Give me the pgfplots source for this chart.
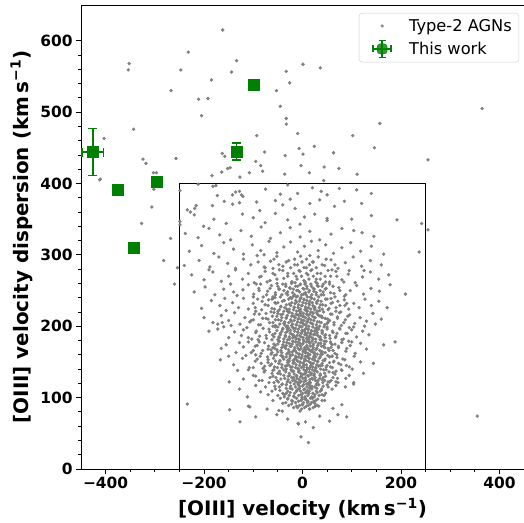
\documentclass[border=0pt]{standalone}
\usepackage{pgfplots}
\pgfplotsset{compat=1.18}
\usepackage{fontspec}
\setmainfont{DejaVu Sans}
\usetikzlibrary{calc}
\definecolor{mplgreen}{RGB}{0,128,0}
\definecolor{ptgray}{RGB}{128,128,128}
\begin{document}
\begin{tikzpicture}
\begin{axis}[name=ax,
  scale only axis, width=443bp, height=464bp,
  xmin=-450, xmax=450, ymin=0, ymax=650,
  xtick={-400,-200,0,200,400},
  xticklabels={−400,−200,0,200,400},
  ytick={0,100,200,300,400,500,600},
  minor x tick num=3, minor y tick num=4,
  tick pos=left, tick align=outside,
  major tick length=4.9bp, minor tick length=2.8bp,
  every tick/.style={black, line width=0.8bp},
  axis line style={black, line width=0.8bp},
  /pgf/number format/assume math mode=true,
  ticklabel style={font=\fontsize{15.5}{18}\selectfont\bfseries},
  label style={font=\fontsize{20}{23}\selectfont\bfseries},
  xlabel={[OIII] velocity (km\,s\textsuperscript{−1})},
  ylabel={[OIII] velocity dispersion (km\,s\textsuperscript{−1})},
  xlabel style={yshift=-2bp},
  ylabel style={yshift=1bp},
  legend style={at={(1,1)}, anchor=north east, xshift=-5bp, yshift=-8bp,
    draw=black!20, rounded corners=3bp, fill=white, fill opacity=0.8, text opacity=1,
    font=\fontsize{16.3}{19}\selectfont, inner xsep=5bp, inner ysep=4bp, row sep=5bp},
  legend cell align=left,
  clip=false,
]
\addplot[only marks, mark=*, mark size=1.5bp, ptgray, mark options={draw=none, fill=ptgray},
  legend image code/.code={\path[draw=none,fill=none] (0bp,-1bp) rectangle (43bp,1bp); \fill[ptgray] (18bp,0bp) circle (1.4bp);}] coordinates {
(-162,615)(-232,584)(-352,568)(-354,559)(-134,572)(-247,559)(-144,556)(-185,545)(-267,530)(1,567)(36,562)(-33,557)(-26,541)(-53,530)(-211,518)(-192,519)(-45,508)(-205,495)(-33,491)(-33,483)(365,505)(157,484)(-343,476)(-403,463)(-93,467)(-10,470)(102,467)(24,452)(-7,449)(1,441)(63,443)(146,450)(-77,444)(-35,439)(-163,442)(-158,438)(-257,435)(-324,434)(-318,428)(255,433)(-95,431)(-85,425)(-81,417)(-3,425)(44,423)(74,421)(14,415)(-36,413)(111,413)(-108,415)(-127,409)(-147,422)(-152,421)(-164,416)(-184,411)(-303,415)(-297,415)(-411,406)(43,404)(-412,405)
(-302,392)(-306,367)(-327,344)(-268,323)(-282,292)(-254,282)(-260,259)(237,304)(209,245)(255,335)(242,344)(192,349)(-234,91)(355,74)(188,178)(165,174)(144,148)(126,200)(148,203)
(-3,45)(12,37)(-8,63)(6,66)(22,58)(-30,70)(55,67)(72,76)(90,73)(-52,76)(-95,73)(35,74)(-41,81)(-9,64)
(-110,88)(-72,84)(-48,82)(-40,92)(-20,95)(-10,86)(0,90)(5,98)(15,84)(25,92)(33,88)(45,96)(62,85)(-30,99)(-60,96)(10,93)(-5,81)(20,99)(-148,83)(80,90)(-107,87)(-127,66)
(-112,101)(-85,108)(-70,104)(-55,112)(-42,118)(-33,106)(-25,113)(-18,102)(-12,109)(-6,116)(-2,104)(3,111)(8,119)(13,106)(18,114)(24,101)(29,118)(36,109)(44,103)(52,115)(68,117)(87,115)(104,119)(-95,117)(-128,112)(-1,100)(6,107)(-9,112)(15,117)(-37,101)(-149,122)(104,121)(124,134)
(-120,126)(-100,131)(-88,124)(-76,138)(-66,128)(-58,121)(-50,134)(-44,126)(-38,139)(-31,122)(-26,131)(-21,137)(-16,124)(-12,130)(-7,138)(-3,123)(1,133)(5,127)(9,139)(13,121)(17,132)(21,126)(26,138)(31,124)(36,133)(42,128)(48,139)(55,122)(62,135)(71,127)(80,138)(95,131)(-132,138)(-4,129)(7,135)(-18,128)(23,131)(-9,121)(45,124)(-60,138)(101,140)(68,122)(-110,139)
(-167,153)(-140,146)(-122,155)(-108,142)(-96,151)(-86,158)(-77,144)(-70,153)(-63,147)(-57,159)(-51,142)(-46,151)(-40,156)(-35,144)(-30,152)(-25,158)(-21,143)(-17,149)(-13,156)(-9,141)(-5,150)(-1,157)(3,145)(7,152)(11,159)(15,142)(19,148)(23,155)(27,141)(31,150)(36,157)(40,145)(45,152)(51,159)(57,143)(63,150)(70,156)(78,146)(86,153)(95,143)(105,158)(118,150)(-150,158)(-28,146)(-12,153)(2,149)(13,155)(-44,159)(33,144)(-80,141)(60,158)(89,145)(-115,159)(-2,142)
(-165,169)(-155,174)(-135,163)(-120,171)(-110,178)(-100,166)(-92,173)(-84,162)(-77,177)(-70,168)(-64,161)(-58,175)(-52,167)(-47,179)(-42,163)(-37,171)(-32,177)(-27,164)(-23,172)(-19,179)(-15,166)(-11,174)(-7,161)(-3,169)(1,176)(5,163)(9,171)(13,178)(17,165)(21,173)(25,161)(29,169)(33,176)(38,164)(43,172)(48,179)(54,166)(60,174)(66,162)(73,170)(80,177)(88,165)(97,173)(107,162)(118,176)(130,168)(-128,177)(-8,178)(6,167)(-25,160)(40,161)(-60,170)(94,179)(-95,160)(20,167)(-40,174)(11,162)(58,170)
(-190,193)(-172,196)(-150,184)(-138,192)(-124,187)(-113,198)(-103,182)(-95,191)(-87,186)(-80,197)(-73,183)(-67,192)(-61,188)(-55,199)(-50,181)(-45,190)(-40,196)(-35,185)(-30,193)(-26,182)(-22,189)(-18,197)(-14,184)(-10,192)(-6,187)(-2,199)(2,181)(6,190)(10,196)(14,185)(18,193)(22,182)(26,189)(30,198)(35,184)(40,192)(45,187)(50,199)(56,183)(62,191)(68,186)(75,197)(83,182)(91,190)(100,195)(110,185)(122,193)(135,188)(-160,199)(-120,195)(-33,199)(-8,182)(4,195)(16,188)(-48,185)(28,194)(-90,181)(70,190)(-17,186)(-2,191)(8,183)(-28,197)(38,181)(95,198)
(-200,212)(-182,205)(-165,215)(-150,208)(-138,219)(-127,203)(-117,212)(-107,206)(-98,217)(-89,202)(-81,211)(-74,218)(-67,205)(-61,214)(-55,201)(-49,209)(-44,216)(-38,204)(-33,212)(-28,219)(-23,207)(-18,214)(-13,202)(-9,210)(-5,218)(-1,205)(3,213)(7,201)(11,209)(15,217)(19,204)(24,212)(29,219)(34,206)(39,214)(45,202)(51,210)(57,217)(64,205)(71,213)(79,201)(87,209)(96,216)(106,204)(117,212)(130,207)(143,218)(160,210)(-145,201)(-22,201)(-3,215)(9,206)(21,219)(-58,219)(-100,209)(75,219)(50,204)(-70,210)(-12,216)(-172,203)(-163,205)
(-205,225)(-185,236)(-168,229)(-155,222)(-142,233)(-130,226)(-120,239)(-110,224)(-100,232)(-91,238)(-83,223)(-76,230)(-69,237)(-62,225)(-56,233)(-50,221)(-44,228)(-38,236)(-32,224)(-27,231)(-22,239)(-17,226)(-12,234)(-7,222)(-2,229)(3,237)(8,224)(13,232)(18,239)(23,227)(29,234)(35,222)(41,230)(47,238)(54,225)(61,233)(68,221)(76,229)(85,237)(94,224)(104,232)(115,226)(127,238)(140,229)(155,235)(172,226)(-158,239)(-5,238)(10,221)(-30,221)(58,239)(-95,221)(25,225)(-60,239)(90,232)
(-220,248)(-198,255)(-178,244)(-160,252)(-146,259)(-133,243)(-121,251)(-110,258)(-99,245)(-89,253)(-80,241)(-71,249)(-63,257)(-55,244)(-47,252)(-40,259)(-33,246)(-26,254)(-19,242)(-12,250)(-5,258)(2,245)(9,253)(16,241)(23,249)(30,257)(38,244)(46,252)(55,259)(64,246)(74,254)(85,242)(97,250)(110,257)(124,245)(139,253)(156,249)(178,258)(-85,259)(-10,242)(40,256)(-140,248)(5,259)(-60,241)
(-225,272)(-200,265)(-182,276)(-165,263)(-150,270)(-136,279)(-122,266)(-110,274)(-98,261)(-87,269)(-76,277)(-66,264)(-56,272)(-47,279)(-38,267)(-30,274)(-21,262)(-13,270)(-5,277)(3,264)(11,272)(19,279)(28,266)(37,274)(47,262)(57,270)(68,277)(80,265)(93,273)(107,261)(122,269)(138,276)(155,266)(175,272)(-190,279)(-15,261)(60,279)(125,278)
(-240,285)(-210,292)(-188,283)(-170,297)(-152,288)(-136,281)(-120,294)(-105,286)(-92,299)(-78,283)(-65,291)(-52,298)(-40,284)(-28,292)(-16,286)(-4,298)(8,282)(20,290)(32,297)(45,285)(58,293)(72,281)(87,289)(103,297)(120,284)(138,292)(160,286)(-60,281)(15,299)
(-230,305)(-205,313)(-180,302)(-160,317)(-140,308)(-120,301)(-102,314)(-85,306)(-68,319)(-52,303)(-38,311)(-24,318)(-10,304)(4,312)(18,319)(32,306)(47,314)(63,302)(80,310)(98,317)(118,305)(140,312)(165,301)(-78,300)
(-238,330)(-212,324)(-190,337)(-168,328)(-146,321)(-125,334)(-104,326)(-84,339)(-65,323)(-45,331)(-25,338)(-5,325)(15,333)(35,321)(58,329)(80,337)(104,334)(121,331)(145,326)
(-249,347)(-249,342)(-220,356)(-201,340)(-180,350)(-155,344)(-122,357)(-100,352)(-76,345)(-55,358)(-30,349)(-5,343)(4,353)(25,357)(50,351)(50,348)(100,350)(140,355)
(-234,363)(-228,360)(-216,369)(-219,365)(-183,369)(-159,375)(-142,371)(-128,373)(-93,374)(-87,362)(-55,376)(-40,370)(-25,378)(-15,365)(15,372)(35,377)(65,368)(85,375)(120,372)
(-249,390)(-212,399)(-182,396)(-176,397)(-173,383)(-142,384)(-136,388)(-128,389)(-124,384)(-121,382)(-75,392)(-45,385)(-30,398)(-10,386)(20,394)(38,389)(50,384)(75,393)(110,391)(140,386)
(-18,86)(4,86)(22,86)(-28,89)(-6,89)(12,89)(30,89)(-34,93)(-14,93)(2,93)(18,93)(-22,96)(-3,96)(9,96)(27,96)(40,96)(-45,99)(-12,99)(6,99)(16,99)
(-50,103)(-27,103)(-8,103)(11,103)(34,103)(-40,106)(-16,106)(0,106)(21,106)(47,106)(-62,109)(-30,109)(-4,109)(14,109)(28,109)(-21,112)(4,112)(19,112)(39,112)(60,112)
(-75,115)(-47,115)(-14,115)(9,115)(25,115)(-33,118)(-9,118)(2,118)(33,118)(50,118)(-68,121)(-25,121)(-5,121)(16,121)(41,121)(72,121)(-82,124)(-52,124)(-20,124)(7,124)(26,124)(58,124)
(-36,127)(-11,127)(1,127)(19,127)(35,127)(88,127)(-95,130)(-60,130)(-29,130)(-2,130)(12,130)(47,130)(-45,133)(-17,133)(5,133)(24,133)(66,133)(-78,136)(-34,136)(-8,136)(14,136)(30,136)(54,136)
(-58,139)(-23,139)(3,139)(20,139)(43,139)(79,139)(-100,142)(-42,142)(-14,142)(9,142)(27,142)(61,142)(-66,145)(-31,145)(-6,145)(17,145)(36,145)(50,145)(-84,148)(-48,148)(-19,148)(1,148)(22,148)(40,148)(73,148)
(-55,151)(-27,151)(-10,151)(12,151)(31,151)(64,151)(-92,154)(-38,154)(-16,154)(4,154)(20,154)(46,154)(82,154)(-71,157)(-33,157)(-8,157)(9,157)(27,157)(55,157)(-53,160)(-20,160)(-1,160)(15,160)(37,160)(70,160)
(-104,163)(-62,163)(-29,163)(-12,163)(7,163)(24,163)(46,163)(-81,166)(-44,166)(-18,166)(2,166)(18,166)(35,166)(62,166)(-57,169)(-34,169)(-9,169)(11,169)(29,169)(52,169)(90,169)
(-96,172)(-69,172)(-25,172)(-4,172)(16,172)(39,172)(73,172)(-50,175)(-21,175)(0,175)(22,175)(45,175)(66,175)(-88,178)(-38,178)(-14,178)(8,178)(27,178)(57,178)(100,178)
(-62,181)(-30,181)(-6,181)(13,181)(36,181)(80,181)(-110,184)(-47,184)(-20,184)(1,184)(19,184)(46,184)(67,184)(-74,187)(-35,187)(-11,187)(9,187)(31,187)(55,187)
(-56,190)(-25,190)(-2,190)(17,190)(40,190)(88,190)(-94,193)(-42,193)(-16,193)(4,193)(24,193)(61,193)(-68,196)(-31,196)(-8,196)(12,196)(33,196)(50,196)(76,196)
(-50,199)(-21,199)(-1,199)(21,199)(44,199)(104,199)(-85,202)(-36,202)(-12,202)(7,202)(28,202)(64,202)(-60,205)(-28,205)(-4,205)(16,205)(38,205)(84,205)
(-104,208)(-44,208)(-17,208)(3,208)(23,208)(55,208)(-74,211)(-33,211)(-7,211)(13,211)(46,211)(71,211)(-52,214)(-22,214)(0,214)(20,214)(36,214)(92,214)
(-88,217)(-40,217)(-13,217)(8,217)(30,217)(60,217)(-64,220)(-26,220)(-3,220)(17,220)(43,220)(78,220)(-47,223)(-18,223)(5,223)(25,223)(52,223)
(-96,226)(-36,226)(-9,226)(12,226)(34,226)(68,226)(-70,229)(-24,229)(-1,229)(21,229)(47,229)(86,229)(-54,232)(-15,232)(7,232)(29,232)(58,232)
(-82,235)(-41,235)(-6,235)(15,235)(38,235)(72,235)(-62,238)(-28,238)(3,238)(24,238)(50,238)(-100,241)(-45,241)(-13,241)(10,241)(33,241)(66,241)
(-73,244)(-30,244)(-2,244)(19,244)(43,244)(88,244)(-55,247)(-20,247)(6,247)(28,247)(57,247)(-88,250)(-38,250)(-9,250)(14,250)(36,250)(76,250)
(-66,253)(-25,253)(1,253)(22,253)(48,253)(-50,256)(-14,256)(9,256)(32,256)(62,256)(-94,259)(-34,259)(-4,259)(17,259)(42,259)
(-72,262)(-22,262)(5,262)(27,262)(55,262)(84,262)(-52,266)(-11,266)(13,266)(36,266)(-84,270)(-30,270)(-2,270)(22,270)(46,270)(70,270)
(-60,274)(-18,274)(8,274)(30,274)(-40,278)(-7,278)(17,278)(52,278)(95,278)(-76,282)(-24,282)(3,282)(28,282)(-48,286)(-10,286)(14,286)(40,286)(66,286)
(-90,290)(-33,290)(-1,290)(22,290)(-58,294)(-16,294)(8,294)(48,294)
(-2,84)(14,84)(-12,88)(8,88)(26,88)(-22,91)(0,91)(16,91)(-8,95)(11,95)(23,95)(-30,98)(-1,98)(31,98)(-17,101)(5,101)(19,101)(-37,104)(-3,104)(25,104)(40,104)(-25,107)(8,107)(30,107)
(-46,110)(-12,110)(10,110)(38,110)(-33,113)(-6,113)(14,113)(29,113)(-56,116)(-24,116)(0,116)(19,116)(42,116)(-41,119)(-17,119)(12,119)(28,119)(-49,122)(-13,122)(3,122)(31,122)(52,122)
(-29,125)(-7,125)(15,125)(40,125)(-54,128)(-22,128)(6,128)(26,128)(62,128)(-38,131)(-12,131)(11,131)(36,131)(-62,134)(-27,134)(-4,134)(18,134)(45,134)(-47,137)(-18,137)(7,137)(24,137)(68,137)
(-33,140)(-9,140)(14,140)(37,140)(-57,143)(-24,143)(2,143)(21,143)(48,143)(-42,146)(-13,146)(8,146)(29,146)(-70,149)(-30,149)(-5,149)(16,149)(55,149)(-46,152)(-19,152)(5,152)(25,152)(42,152)
(-59,155)(-26,155)(-3,155)(14,155)(34,155)(-40,158)(-14,158)(6,158)(23,158)(60,158)(-32,161)(-7,161)(12,161)(30,161)(-50,164)(-21,164)(1,164)(20,164)(40,164)(-64,167)(-28,167)(-6,167)(13,167)(27,167)
(-42,170)(-16,170)(4,170)(22,170)(45,170)(-55,173)(-33,173)(-11,173)(9,173)(31,173)(-27,176)(-5,176)(15,176)(37,176)(58,176)(-48,179)(-20,179)(3,179)(19,179)(44,179)(-38,182)(-13,182)(10,182)(27,182)
(-58,185)(-27,185)(-3,185)(14,185)(36,185)(-45,188)(-19,188)(5,188)(23,188)(47,188)(-34,191)(-9,191)(11,191)(30,191)(-52,194)(-24,194)(-1,194)(18,194)(40,194)(-40,197)(-14,197)(7,197)(26,197)
(-60,200)(-30,200)(-6,200)(13,200)(35,200)(-46,203)(-20,203)(2,203)(21,203)(-36,206)(-10,206)(10,206)(30,206)(52,206)(-55,209)(-24,209)(-2,209)(17,209)(-42,212)(-15,212)(6,212)(26,212)(40,212)
(-31,215)(-8,215)(12,215)(33,215)(-50,218)(-21,218)(2,218)(22,218)(-38,221)(-12,221)(9,221)(30,221)(-57,224)(-27,224)(-4,224)(17,224)(40,224)(-44,227)(-17,227)(6,227)(25,227)
(-33,230)(-8,230)(14,230)(36,230)(-50,233)(-22,233)(1,233)(20,233)(-37,236)(-14,236)(9,236)(31,236)(-56,240)(-25,240)(-3,240)(18,240)(-42,244)(-16,244)(7,244)(28,244)
(-30,248)(-6,248)(13,248)(42,248)(-48,252)(-19,252)(3,252)(24,252)(-34,256)(-10,256)(18,256)(-52,260)(-22,260)(6,260)(30,260)
};
\addlegendentry{Type-2 AGNs}
\addplot[black, line width=0.8bp, sharp plot, no marks, forget plot] coordinates {(-250,0)(-250,400)(250,400)(250,0)};
\addplot[only marks, mark=square*, mark size=5.5bp, color=mplgreen,
  mark options={fill=mplgreen, draw=mplgreen},
  legend image code/.code={
    \path[draw=none,fill=none] (0bp,-1bp) rectangle (43bp,1bp);
    \draw[mplgreen, line width=1.4bp] (9bp,0bp)--(27bp,0bp) (18bp,-8.5bp)--(18bp,8.5bp)
       (9bp,-3.5bp)--(9bp,3.5bp) (27bp,-3.5bp)--(27bp,3.5bp)
       (14.5bp,-8.5bp)--(21.5bp,-8.5bp) (14.5bp,8.5bp)--(21.5bp,8.5bp);
    \fill[mplgreen] (13bp,-5bp) rectangle (23bp,5bp);
  },
  error bars/.cd, x dir=both, x explicit, y dir=both, y explicit,
  error bar style={line width=1.5bp, mplgreen},
  error mark options={rotate=90, mark size=4.5bp, line width=1.5bp, mplgreen},
  ] coordinates {
(-426,444) +- (22,33)
(-376,391) +- (0,0)
(-343,310) +- (0,0)
(-297,403) +- (0,0)
(-134,445) +- (3,12)
(-100,539) +- (0,0)
};
\addlegendentry{This work}
\end{axis}
\pgfresetboundingbox
\path[use as bounding box] ($(ax.south west)+(-81bp,-54bp)$) rectangle ($(ax.north east)+(0bp,5bp)$);
\end{tikzpicture}
\end{document}
